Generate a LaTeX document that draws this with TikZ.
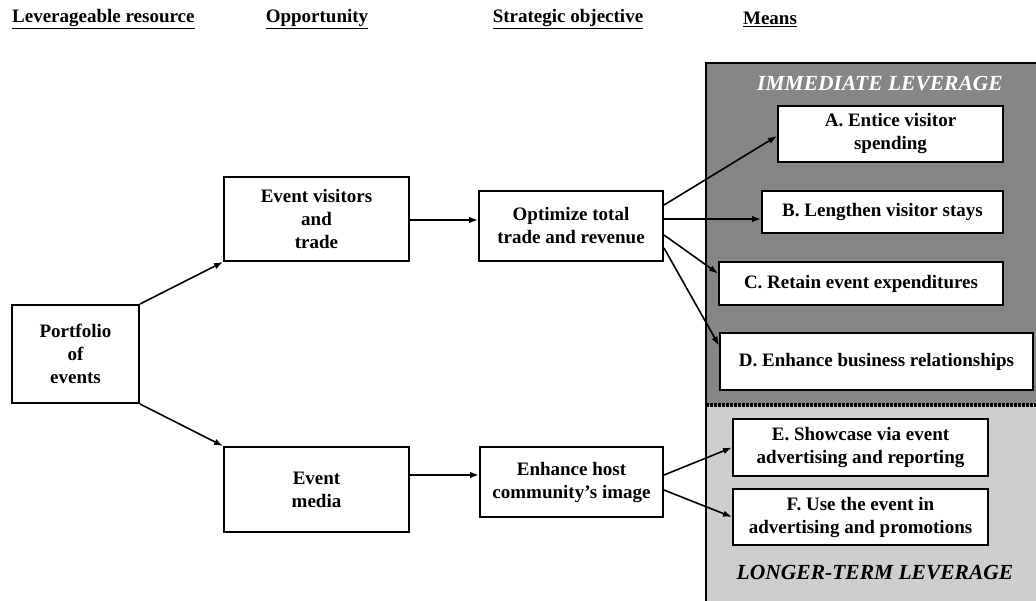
\documentclass[tikz,border=0pt]{standalone}
\usepackage{fontspec}
\setmainfont{Liberation Serif}
\usetikzlibrary{arrows.meta}
\definecolor{darkpanel}{RGB}{134,134,134}
\definecolor{lightpanel}{RGB}{206,206,206}
\tikzset{
  box/.style={draw=black, line width=2pt, fill=white, inner sep=0pt, align=center,
              font=\fontsize{19}{23}\selectfont\bfseries},
  hdr/.style={inner sep=0pt, font=\fontsize{19}{23}\selectfont\bfseries},
  lev/.style={inner sep=0pt, font=\fontsize{21.5}{25}\selectfont\bfseries\itshape},
  conn/.style={line width=1.6pt, -{Latex[length=9pt,width=6.5pt]}},
}
\begin{document}
\begin{tikzpicture}[x=1pt,y=-1pt]
\useasboundingbox (0,0) rectangle (1036,600);
% panels
\fill[darkpanel] (706,63) rectangle (1040,405);
\fill[lightpanel] (706,405) rectangle (1040,604);
\draw[line width=2pt] (706,604) -- (706,63) -- (1040,63);
\draw[line width=3.5pt, dash pattern=on 2.5pt off 1.5pt] (706,405) -- (1040,405);
\node[lev, text=white] (imm) at (880,84) {IMMEDIATE LEVERAGE};
\node[lev, text=black] (lon) at (875,573) {LONGER-TERM LEVERAGE};
% headers
\node[hdr, anchor=west] (h1) at (12,19) {\underline{Leverageable resource}};
\node[hdr] (h2) at (317,19) {\underline{Opportunity}};
\node[hdr] (h3) at (568,19) {\underline{Strategic objective}};
\node[hdr] (h4) at (770,19) {\underline{Means}};
% boxes
\node[box, minimum width=127pt, minimum height=98pt] (pf) at (75.5,354) {Portfolio\\of\\events};
\node[box, minimum width=185pt, minimum height=84pt] (ev) at (316.5,219) {Event visitors\\and\\trade};
\node[box, minimum width=184pt, minimum height=70pt] (opt) at (571,226) {Optimize total\\trade and revenue};
\node[box, minimum width=185pt, minimum height=85pt] (em) at (316.5,489.5) {Event\\media};
\node[box, minimum width=183pt, minimum height=70pt] (enh) at (571.5,482) {Enhance host\\community's image};
\node[box, minimum width=225pt, minimum height=56pt] (a) at (890.5,134) {A. Entice visitor\\spending};
\node[box, minimum width=241pt, minimum height=42pt] (b) at (882.5,212) {B. Lengthen visitor stays};
\node[box, minimum width=284pt, minimum height=43pt] (c) at (861,283.5) {C. Retain event expenditures};
\node[box, minimum width=313pt, minimum height=57pt] (d) at (876.5,361.5) {D. Enhance business relationships};
\node[box, minimum width=255pt, minimum height=57pt] (e) at (860.5,447.5) {E. Showcase via event\\advertising and reporting};
\node[box, minimum width=255pt, minimum height=56pt] (f) at (860.5,517) {F. Use the event in\\advertising and promotions};
% connectors
\draw[conn] (pf.north east) -- (ev.south west);
\draw[conn] (pf.south east) -- (em.north west);
\draw[conn] ([yshift=-1pt]ev.east) -- ([yshift=-1pt]ev.east -| opt.west);
\draw[conn] ([yshift=14.5pt]em.east) -- ([yshift=14.5pt]em.east -| enh.west);
\draw[conn] ([yshift=21pt]opt.east) -- ([yshift=-2pt]a.west);
\draw[conn] ([yshift=7pt]opt.east) -- ([yshift=7pt]opt.east -| b.west);
\draw[conn] ([yshift=-9pt]opt.east) -- ([yshift=10pt]c.west);
\draw[conn] ([yshift=-22pt]opt.east) -- ([yshift=16pt]d.west);
\draw[conn] ([yshift=7pt]enh.east) -- (e.west);
\draw[conn] ([yshift=-8pt]enh.east) -- (f.west);
\end{tikzpicture}
\end{document}
